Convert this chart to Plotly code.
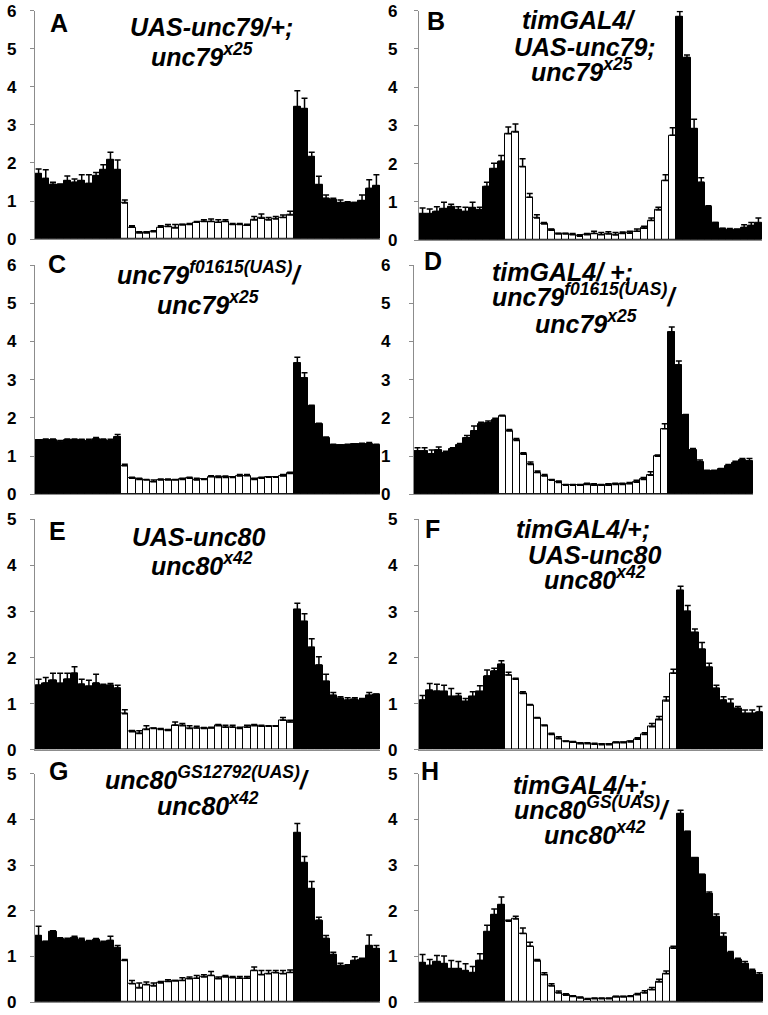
import plotly.graph_objects as go

# 48 half-hour bins: 12 dark, 24 light, 12 dark
bins = list(range(1, 49))
light_bins = list(range(13, 37))

a_mean = [1.71, 1.59, 1.44, 1.42, 1.53, 1.49, 1.53, 1.46, 1.66, 1.81, 2.08, 1.82,
          0.95, 0.31, 0.16, 0.16, 0.19, 0.31, 0.33, 0.29, 0.37, 0.38, 0.44, 0.46,
          0.46, 0.44, 0.46, 0.38, 0.38, 0.36, 0.50, 0.55, 0.50, 0.53, 0.57, 0.63,
          3.48, 3.42, 2.16, 1.43, 1.07, 1.03, 0.95, 0.96, 0.95, 1.01, 1.33, 1.40]
a_sem = [0.13, 0.23, 0.05, 0.03, 0.13, 0.09, 0.16, 0.23, 0.09, 0.14, 0.20, 0.26,
         0.08, 0.04, 0.03, 0.03, 0.03, 0.04, 0.05, 0.09, 0.02, 0.03, 0.02, 0.05,
         0.07, 0.07, 0.05, 0.03, 0.03, 0.03, 0.09, 0.11, 0.07, 0.06, 0.06, 0.10,
         0.42, 0.28, 0.12, 0.22, 0.09, 0.04, 0.08, 0.02, 0.01, 0.15, 0.23, 0.29]

b_mean = [0.68, 0.68, 0.75, 0.81, 0.86, 0.79, 0.75, 0.84, 0.79, 1.40, 1.86, 2.06,
          2.78, 2.83, 1.92, 1.12, 0.58, 0.42, 0.26, 0.16, 0.16, 0.14, 0.10, 0.14,
          0.17, 0.14, 0.16, 0.13, 0.17, 0.18, 0.23, 0.31, 0.51, 0.79, 1.56, 2.74,
          5.84, 4.78, 2.91, 1.51, 0.87, 0.44, 0.29, 0.27, 0.26, 0.33, 0.38, 0.44]
b_sem = [0.16, 0.13, 0.12, 0.18, 0.08, 0.08, 0.11, 0.15, 0.07, 0.11, 0.15, 0.15,
         0.18, 0.21, 0.21, 0.10, 0.08, 0.04, 0.03, 0.02, 0.02, 0.03, 0.04, 0.03,
         0.06, 0.06, 0.06, 0.07, 0.04, 0.05, 0.06, 0.05, 0.07, 0.07, 0.15, 0.20,
         0.14, 0.06, 0.25, 0.12, 0.03, 0.02, 0.02, 0.03, 0.03, 0.07, 0.08, 0.14]

c_mean = [1.41, 1.43, 1.41, 1.36, 1.43, 1.42, 1.43, 1.40, 1.45, 1.43, 1.40, 1.51,
          0.75, 0.42, 0.39, 0.38, 0.33, 0.38, 0.38, 0.38, 0.39, 0.42, 0.38, 0.39,
          0.46, 0.44, 0.44, 0.44, 0.48, 0.49, 0.39, 0.42, 0.45, 0.45, 0.48, 0.55,
          3.44, 3.04, 2.30, 1.85, 1.47, 1.29, 1.28, 1.29, 1.31, 1.31, 1.32, 1.29]
c_sem = [0.02, 0.02, 0.04, 0.05, 0.02, 0.03, 0.01, 0.04, 0.04, 0.02, 0.04, 0.06,
         0.04, 0.03, 0.03, 0.01, 0.05, 0.02, 0.02, 0.01, 0.03, 0.03, 0.04, 0.01,
         0.03, 0.04, 0.04, 0.02, 0.04, 0.03, 0.03, 0.03, 0.01, 0.01, 0.04, 0.03,
         0.15, 0.14, 0.03, 0.01, 0.03, 0.02, 0.01, 0.02, 0.01, 0.03, 0.04, 0.02]

d_mean = [1.13, 1.13, 1.06, 1.15, 1.09, 1.18, 1.28, 1.48, 1.66, 1.83, 1.87, 1.94,
          2.05, 1.66, 1.41, 1.05, 0.78, 0.57, 0.48, 0.37, 0.31, 0.24, 0.24, 0.24,
          0.26, 0.24, 0.24, 0.24, 0.26, 0.26, 0.28, 0.32, 0.39, 0.50, 1.00, 1.72,
          4.25, 3.38, 2.08, 1.15, 0.85, 0.61, 0.61, 0.65, 0.74, 0.83, 0.89, 0.87]
d_sem = [0.09, 0.09, 0.10, 0.09, 0.04, 0.04, 0.05, 0.06, 0.13, 0.06, 0.05, 0.05,
         0.02, 0.04, 0.05, 0.04, 0.07, 0.04, 0.04, 0.02, 0.04, 0.02, 0.02, 0.02,
         0.03, 0.04, 0.02, 0.04, 0.03, 0.03, 0.03, 0.05, 0.05, 0.09, 0.03, 0.13,
         0.13, 0.11, 0.01, 0.05, 0.05, 0.02, 0.02, 0.03, 0.04, 0.04, 0.05, 0.07]

e_mean = [1.40, 1.45, 1.51, 1.44, 1.53, 1.66, 1.42, 1.38, 1.45, 1.39, 1.40, 1.34,
          0.78, 0.39, 0.35, 0.44, 0.46, 0.44, 0.42, 0.53, 0.52, 0.46, 0.47, 0.46,
          0.47, 0.52, 0.49, 0.49, 0.46, 0.49, 0.52, 0.51, 0.51, 0.51, 0.64, 0.60,
          3.04, 2.78, 2.22, 1.84, 1.48, 1.18, 1.11, 1.08, 1.09, 1.08, 1.18, 1.20]
e_sem = [0.13, 0.12, 0.15, 0.22, 0.13, 0.14, 0.11, 0.13, 0.19, 0.03, 0.04, 0.06,
         0.09, 0.03, 0.06, 0.08, 0.01, 0.02, 0.02, 0.07, 0.05, 0.06, 0.04, 0.02,
         0.02, 0.03, 0.04, 0.04, 0.03, 0.04, 0.03, 0.02, 0.01, 0.01, 0.06, 0.04,
         0.14, 0.17, 0.19, 0.18, 0.16, 0.06, 0.04, 0.05, 0.04, 0.03, 0.06, 0.01]

f_mean = [1.08, 1.29, 1.27, 1.26, 1.15, 1.16, 1.04, 1.15, 1.26, 1.60, 1.71, 1.85,
          1.62, 1.53, 1.22, 0.97, 0.69, 0.52, 0.33, 0.24, 0.18, 0.16, 0.13, 0.13,
          0.12, 0.11, 0.11, 0.15, 0.15, 0.17, 0.23, 0.33, 0.50, 0.65, 1.06, 1.66,
          3.45, 3.00, 2.54, 2.18, 1.79, 1.33, 1.08, 1.00, 0.89, 0.78, 0.78, 0.82]
f_sem = [0.10, 0.15, 0.15, 0.14, 0.18, 0.06, 0.07, 0.11, 0.13, 0.13, 0.06, 0.08,
         0.06, 0.02, 0.04, 0.01, 0.01, 0.01, 0.03, 0.04, 0.01, 0.02, 0.02, 0.02,
         0.02, 0.02, 0.02, 0.02, 0.02, 0.02, 0.03, 0.04, 0.07, 0.07, 0.09, 0.09,
         0.10, 0.13, 0.08, 0.15, 0.09, 0.07, 0.07, 0.10, 0.05, 0.08, 0.08, 0.12]

g_mean = [1.45, 1.31, 1.55, 1.39, 1.36, 1.41, 1.36, 1.33, 1.37, 1.30, 1.35, 1.18,
          0.91, 0.40, 0.31, 0.38, 0.35, 0.42, 0.45, 0.46, 0.47, 0.51, 0.52, 0.55,
          0.58, 0.51, 0.55, 0.53, 0.52, 0.52, 0.69, 0.60, 0.62, 0.64, 0.62, 0.65,
          3.70, 3.04, 2.48, 1.79, 1.39, 1.04, 0.80, 0.79, 0.91, 0.93, 1.23, 1.17]
g_sem = [0.21, 0.02, 0.01, 0.02, 0.04, 0.03, 0.04, 0.02, 0.02, 0.03, 0.09, 0.06,
         0.02, 0.07, 0.11, 0.06, 0.07, 0.03, 0.04, 0.01, 0.06, 0.04, 0.06, 0.05,
         0.09, 0.04, 0.03, 0.03, 0.04, 0.04, 0.08, 0.09, 0.07, 0.05, 0.07, 0.05,
         0.21, 0.15, 0.16, 0.07, 0.07, 0.05, 0.05, 0.03, 0.08, 0.03, 0.24, 0.07]

h_mean = [0.86, 0.80, 0.88, 0.84, 0.73, 0.73, 0.68, 0.64, 0.91, 1.53, 1.91, 2.13,
          1.77, 1.82, 1.50, 1.22, 0.90, 0.60, 0.35, 0.20, 0.15, 0.12, 0.09, 0.06,
          0.07, 0.07, 0.07, 0.11, 0.11, 0.12, 0.16, 0.20, 0.27, 0.44, 0.62, 1.18,
          4.12, 3.72, 3.15, 2.79, 2.37, 1.86, 1.42, 1.07, 0.93, 0.84, 0.69, 0.60]
h_sem = [0.18, 0.13, 0.14, 0.17, 0.18, 0.16, 0.16, 0.14, 0.15, 0.15, 0.13, 0.17,
         0.02, 0.06, 0.12, 0.09, 0.03, 0.04, 0.05, 0.04, 0.03, 0.02, 0.02, 0.02,
         0.02, 0.02, 0.02, 0.02, 0.02, 0.02, 0.03, 0.05, 0.05, 0.06, 0.06, 0.04,
         0.08, 0.02, 0.01, 0.01, 0.04, 0.07, 0.09, 0.04, 0.03, 0.05, 0.03, 0.04]

letters = ["A", "B", "C", "D", "E", "F", "G", "H"]
titles = [
    ["UAS-unc79/+;", "unc79<sup>x25</sup>"],
    ["timGAL4/", "UAS-unc79;", "unc79<sup>x25</sup>"],
    ["unc79<sup>f01615(UAS)</sup>/", "unc79<sup>x25</sup>"],
    ["timGAL4/ +;", "unc79<sup>f01615(UAS)</sup>/", "unc79<sup>x25</sup>"],
    ["UAS-unc80", "unc80<sup>x42</sup>"],
    ["timGAL4/+;", "UAS-unc80", "unc80<sup>x42</sup>"],
    ["unc80<sup>GS12792(UAS)</sup>/", "unc80<sup>x42</sup>"],
    ["timGAL4/+;", "unc80<sup>GS(UAS)</sup>/", "unc80<sup>x42</sup>"],
]
means = [a_mean, b_mean, c_mean, d_mean, e_mean, f_mean, g_mean, h_mean]
sems = [a_sem, b_sem, c_sem, d_sem, e_sem, f_sem, g_sem, h_sem]
ymax = [6, 6, 6, 6, 5, 5, 5, 5]

W, H = 768, 1015
# the page comes out squeezed a little vertically, so map target pixels back
SY, OY = 0.98, 8.4


def py(y):
    # target pixel row -> paper y
    return 1 - (y / SY - OY) / H


# panel boxes in pixels: left, right, bottom (y=0), top (y=max)
boxes = [(35, 380, 238, 10), (419, 762, 239, 10),
         (35, 380, 493, 264), (414, 753, 493, 264),
         (35, 380, 748, 518), (419, 763, 748, 518),
         (35, 380, 1000, 772), (419, 763, 1000, 772)]
standoff = [10, 13, 10, 15, 10, 13, 10, 13]
# letter centres and title line (centre x, baseline y), in pixels
letter_pos = [(59, 24), (436, 22), (57, 265), (433, 262),
              (57, 532), (432, 530), (58, 771), (430, 771)]
title_pos = [
    [(211, 35), (202, 65)],
    [(579, 28), (585, 55), (582, 80)],
    [(209, 283), (208, 313)],
    [(562, 280), (584, 305), (586, 332)],
    [(198, 545), (202, 573)],
    [(583, 537), (594, 562), (595, 587)],
    [(207, 787), (208, 813)],
    [(580, 792), (592, 817), (595, 842)],
]

FONT = "Liberation Sans"
colors = ["white" if b in light_bins else "black" for b in bins]

fig = go.Figure()
layout = {}
annotations = []
for i in range(8):
    sfx = "" if i == 0 else str(i + 1)
    x0, x1, yb, yt = boxes[i]
    fig.add_trace(go.Bar(
        x=bins, y=means[i], xaxis="x" + sfx, yaxis="y" + sfx,
        marker=dict(color=colors, line=dict(color="black", width=1)),
        error_y=dict(type="data", array=sems[i], arrayminus=[0] * 48,
                     symmetric=False, color="black", thickness=1.5, width=3),
        showlegend=False,
    ))
    layout["xaxis" + sfx] = dict(
        domain=[x0 / W, x1 / W], range=[0.5, 48.5], anchor="y" + sfx,
        showline=True, linecolor="#8c8c8c", linewidth=1.2,
        showticklabels=False, ticks="", showgrid=False, zeroline=False,
    )
    layout["yaxis" + sfx] = dict(
        domain=[py(yb), py(yt)], range=[0, ymax[i]], anchor="x" + sfx,
        dtick=1, showline=True, linecolor="#8c8c8c", linewidth=1.2,
        ticks="outside", ticklen=4, tickcolor="#8c8c8c",
        ticklabelstandoff=standoff[i],
        tickfont=dict(family=FONT, size=17, color="black", weight="bold"),
        showgrid=False, zeroline=False,
    )
    lx, ly = letter_pos[i]
    annotations.append(dict(
        text="<b>" + letters[i] + "</b>", x=lx / W, y=py(ly - 2),
        xref="paper", yref="paper", showarrow=False,
        xanchor="center", yanchor="middle",
        font=dict(family=FONT, size=25, color="black"),
    ))
    for line, (tx, ty) in zip(titles[i], title_pos[i]):
        annotations.append(dict(
            text="<b><i>" + line + "</i></b>", x=tx / W, y=py(ty + 7),
            xref="paper", yref="paper", showarrow=False,
            xanchor="center", yanchor="bottom",
            font=dict(family=FONT, size=25, color="black"),
        ))

fig.update_layout(
    width=W, height=H, margin=dict(l=0, r=0, t=0, b=0),
    paper_bgcolor="white", plot_bgcolor="white",
    bargap=0, annotations=annotations, **layout,
)

fig.write_html("out.html", config={"displayModeBar": False},
               post_script="document.body.style.margin = '0px';")
